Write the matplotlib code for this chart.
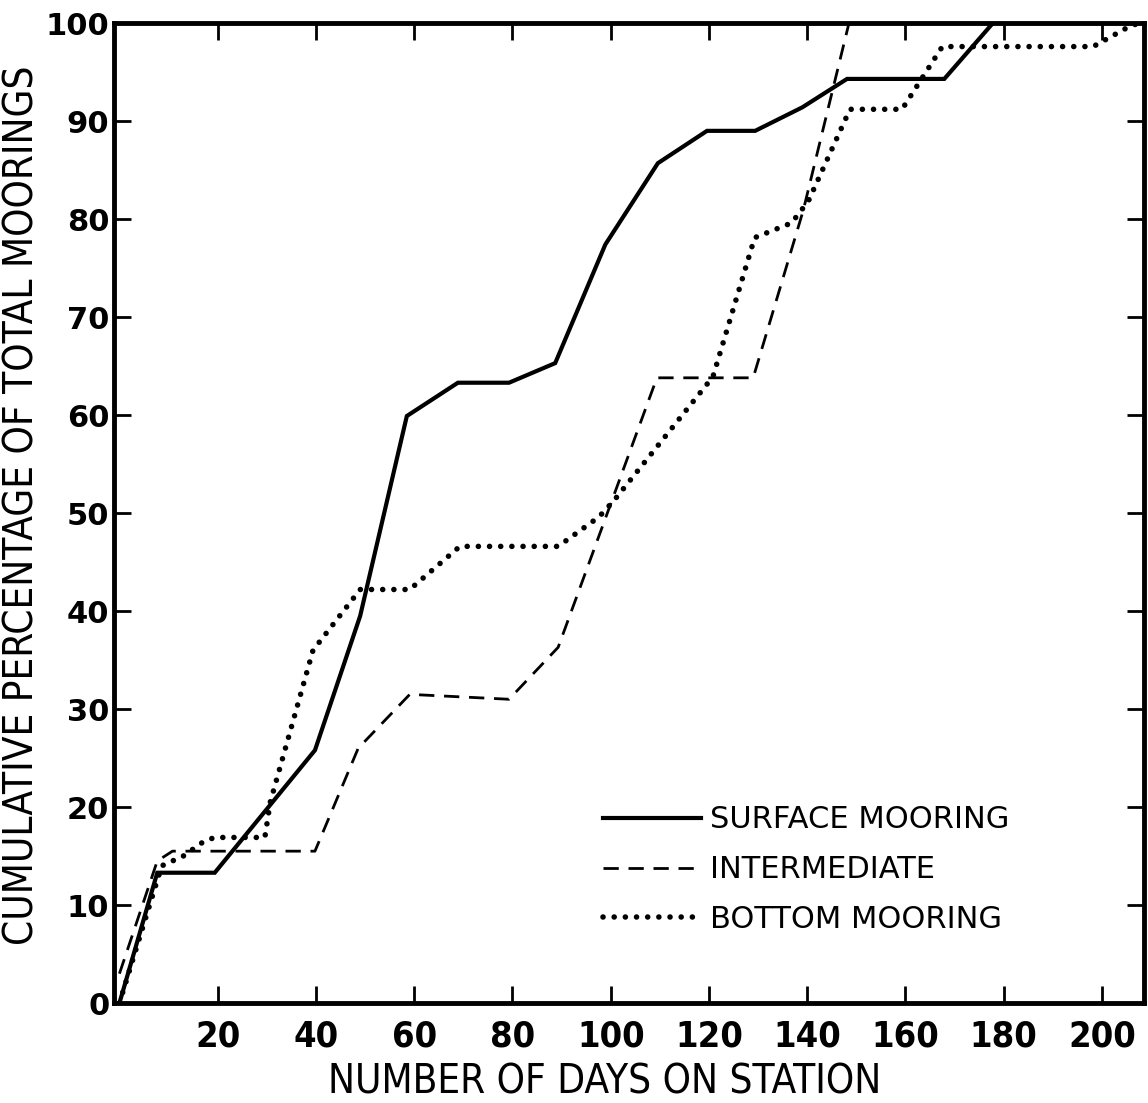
import matplotlib
matplotlib.use('Agg')
import matplotlib.pyplot as plt

# --- Data ---
surface_days = [0, 7.7, 19.4, 39.8, 49.0, 58.5, 68.9, 79.3, 88.7, 98.9, 109.6, 119.6, 129.4, 139.0, 148.1, 167.9, 177.8, 208.5]
surface_pct = [0, 13.3, 13.3, 25.8, 39.5, 59.9, 63.3, 63.3, 65.3, 77.4, 85.7, 89.0, 89.0, 91.4, 94.3, 94.3, 100, 100]

inter_days = [0, 7.7, 10.8, 39.8, 48.6, 59.1, 79.3, 89.3, 109.4, 129.0, 139.2, 148.5, 208.5]
inter_pct = [3.0, 14.5, 15.5, 15.5, 26.0, 31.5, 31.0, 36.3, 63.8, 63.8, 80.9, 100, 100]

bottom_days = [0, 8.6, 13.0, 17.2, 19.4, 29.6, 30.7, 39.4, 49.0, 59.1, 69.3, 89.3, 97.6, 100.7, 120.8, 129.3, 136.8, 140.2, 148.7, 159.3, 167.5, 198.2, 206.1, 208.5]
bottom_pct = [0, 14.0, 15.0, 16.5, 16.9, 16.9, 20.5, 36.0, 42.2, 42.2, 46.6, 46.6, 49.6, 51.3, 63.9, 78.1, 79.6, 81.8, 91.2, 91.2, 97.6, 97.6, 99.8, 100]

labels = ['SURFACE MOORING', 'INTERMEDIATE', 'BOTTOM MOORING']
xticks = [20, 40, 60, 80, 100, 120, 140, 160, 180, 200]
yticks = [0, 10, 20, 30, 40, 50, 60, 70, 80, 90, 100]

fig = plt.figure(figsize=(11.48, 11.03), dpi=100)
ax = fig.add_axes([0.0989, 0.0906, 0.8974, 0.8885])

ax.plot(surface_days, surface_pct, color='black', lw=3.0, solid_joinstyle='miter',
        label=labels[0])
ax.plot(inter_days, inter_pct, color='black', lw=2.0, linestyle=(0, (5.5, 3.5)),
        label=labels[1])
ax.plot(bottom_days, bottom_pct, color='black', lw=4.0, linestyle=(0, (0.01, 2.0)),
        dash_capstyle='round', label=labels[2])

ax.set_xlim(-1.2, 208.5)
ax.set_ylim(0, 100)
ax.set_xticks(xticks)
ax.set_yticks(yticks)
ax.tick_params(direction='in', length=12, width=2, top=True, right=True,
               labeltop=False, labelright=False)
ax.tick_params(axis='x', pad=12)
ax.tick_params(axis='y', pad=3)
for s in ax.spines.values():
    s.set_linewidth(3.5)

for t in ax.get_yticklabels():
    t.set_fontsize(22)
    t.set_fontweight('bold')
for t in ax.get_xticklabels():
    t.set_fontsize(26)
    t.set_fontweight('bold')
    t.set_fontstretch('condensed')

ax.set_xlabel('NUMBER OF DAYS ON STATION', fontsize=29, fontstretch='condensed')
ax.xaxis.set_label_coords(0.477, -0.061)
ax.set_ylabel('CUMULATIVE PERCENTAGE OF TOTAL MOORINGS', fontsize=29,
              fontstretch='condensed')
ax.yaxis.set_label_coords(-0.069, 0.508)

leg = ax.legend(loc='lower left', bbox_to_anchor=(0.463, 0.058), frameon=False,
                fontsize=22, handlelength=3.2, handletextpad=0.3, labelspacing=0.68,
                borderaxespad=0)

fig.savefig('out.png', dpi=100)
